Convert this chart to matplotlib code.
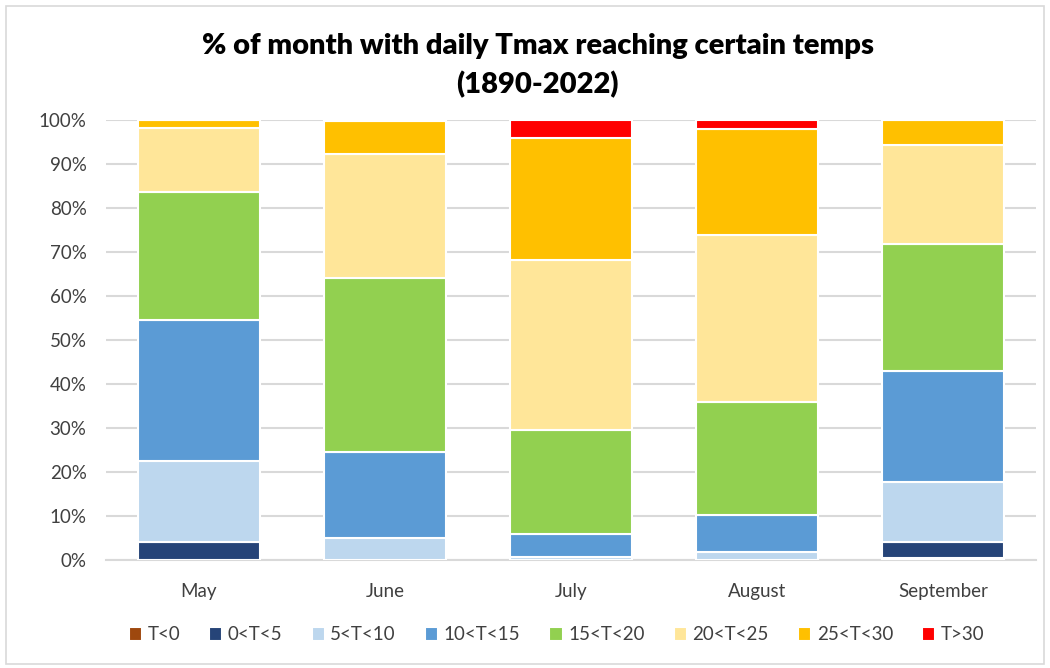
import matplotlib
matplotlib.use("Agg")
import matplotlib.pyplot as plt
import matplotlib.patches as patches
from matplotlib.ticker import PercentFormatter
import numpy as np

# Data (percent of month)
months = ['May', 'June', 'July', 'August', 'September']
bands = ['T<0', '0<T<5', '5<T<10', '10<T<15', '15<T<20', '20<T<25', '25<T<30', 'T>30']
t_lt0 = [0.0, 0.0, 0.0, 0.0, 0.3]
t_0_5 = [4.0, 0.0, 0.0, 0.0, 3.8]
t_5_10 = [18.5, 5.0, 0.6, 1.8, 13.5]
t_10_15 = [32.0, 19.5, 5.2, 8.4, 25.4]
t_15_20 = [29.1, 39.5, 23.6, 25.6, 28.7]
t_20_25 = [14.6, 28.2, 38.7, 38.0, 22.6]
t_25_30 = [1.8, 7.4, 27.8, 24.1, 5.7]
t_gt30 = [0.0, 0.4, 4.1, 2.1, 0.0]
colors = ['#9E480E', '#264478', '#BDD7EE', '#5B9BD5', '#92D050', '#FFE699', '#FFC000', '#FF0000']

series = [t_lt0, t_0_5, t_5_10, t_10_15, t_15_20, t_20_25, t_25_30, t_gt30]

plt.rcParams['font.family'] = ['Lato', 'DejaVu Sans']

fig = plt.figure(figsize=(10.5, 6.68), dpi=100)
ax = fig.add_axes([106 / 1050, 1 - 559.7 / 668, 930 / 1050, 440 / 668])

x = np.arange(len(months))
bottom = np.zeros(len(months))
for name, vals, col in zip(bands, series, colors):
    vals = np.array(vals)
    ax.bar(x, vals, 0.656, bottom=bottom, color=col, edgecolor='white',
           linewidth=1.5, label=name, zorder=3)
    bottom += vals

ax.set_xlim(-0.5, len(months) - 0.5)
ax.set_ylim(0, 100)
ax.set_yticks(np.arange(0, 101, 10))
ax.yaxis.set_major_formatter(PercentFormatter(decimals=0))
ax.set_xticks(x)
ax.set_xticklabels(months)
ax.tick_params(axis='both', length=0, labelsize=13.5, colors='#404040')
ax.tick_params(axis='x', pad=17)
ax.tick_params(axis='y', pad=14)
ax.grid(axis='y', color='#D9D9D9', linewidth=1.5, zorder=0)
for side in ['top', 'right', 'left']:
    ax.spines[side].set_visible(False)
ax.spines['bottom'].set_color('#D9D9D9')
ax.spines['bottom'].set_linewidth(1.5)

fig.text(0.512, 1 - 46 / 668, '% of month with daily Tmax reaching certain temps',
         ha='center', va='center', fontsize=21, fontweight='heavy', color='black')
fig.text(0.512, 1 - 85 / 668, '(1890-2022)',
         ha='center', va='center', fontsize=21, fontweight='heavy', color='black')

handles, labels = ax.get_legend_handles_labels()
fig.legend(handles, labels, loc='center', bbox_to_anchor=(0.53, 1 - 635 / 668),
           ncol=8, frameon=False, fontsize=13.5, handlelength=0.7, handleheight=0.7,
           handletextpad=0.3, columnspacing=1.55, labelcolor='#404040')

# outer chart border
fig.patches.append(patches.Rectangle((6 / 1050, 4 / 668), 1038 / 1050, 658 / 668,
                                     transform=fig.transFigure, fill=False,
                                     edgecolor='#D9D9D9', linewidth=1.2))

fig.savefig('out.png', dpi=100, facecolor='white')
